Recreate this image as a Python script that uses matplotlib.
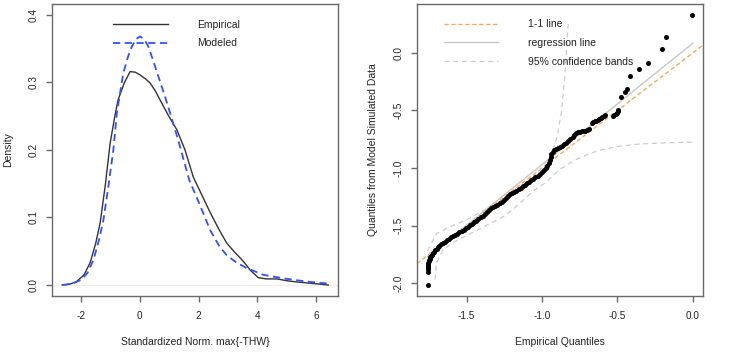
import numpy as np
import matplotlib.pyplot as plt

plt.rcParams['font.family'] = ['Liberation Sans', 'DejaVu Sans']
plt.rcParams['axes.unicode_minus'] = False

# Left panel: density curves
emp_x = [-2.64, -2.40, -2.15, -1.90, -1.69, -1.50, -1.35, -1.18, -1.01, -0.85, -0.74, -0.53, -0.33, -0.15,
         0.01, 0.20, 0.35, 0.52, 0.69, 0.96, 1.26, 1.54, 1.82, 2.05, 2.40, 2.70, 2.96, 3.20, 3.42, 3.60,
         3.76, 4.03, 4.30, 4.67, 5.05, 5.46, 5.95, 6.42]
emp_y = [0.0, 0.001, 0.005, 0.015, 0.033, 0.062, 0.092, 0.146, 0.21, 0.25, 0.274, 0.299, 0.316, 0.315,
         0.311, 0.305, 0.299, 0.288, 0.274, 0.252, 0.23, 0.2, 0.16, 0.139, 0.107, 0.082, 0.062, 0.05, 0.04, 0.031,
         0.022, 0.011, 0.009, 0.009, 0.006, 0.004, 0.002, 0.0]
mod_x = [-2.64, -2.30, -1.98, -1.78, -1.58, -1.40, -1.24, -1.07, -0.90, -0.78, -0.56, -0.40, -0.27, -0.13,
         0.01, 0.15, 0.29, 0.45, 0.63, 0.83, 1.03, 1.37, 1.68, 2.05, 2.40, 2.70, 2.96, 3.30, 3.64, 4.21,
         5.01, 5.70, 6.42]
mod_y = [0.0, 0.002, 0.008, 0.018, 0.037, 0.065, 0.096, 0.146, 0.20, 0.255, 0.314, 0.338, 0.353, 0.364,
         0.368, 0.364, 0.353, 0.333, 0.309, 0.283, 0.255, 0.205, 0.156, 0.118, 0.081, 0.058, 0.044, 0.033, 0.025, 0.015,
         0.009, 0.005, 0.002]

# Right panel: QQ plot
qq_x = [-1.760, -1.760, -1.759, -1.758, -1.757, -1.756, -1.754, -1.752, -1.749, -1.745, -1.741, -1.736, -1.730,
        -1.723, -1.716, -1.708, -1.700, -1.691, -1.681, -1.670, -1.658, -1.645, -1.632, -1.618, -1.604, -1.590,
        -1.576, -1.562, -1.548, -1.534, -1.520, -1.506, -1.492, -1.478, -1.464, -1.450, -1.436, -1.422, -1.408,
        -1.394, -1.380, -1.366, -1.352, -1.338, -1.324, -1.310, -1.296, -1.282, -1.268, -1.254, -1.240, -1.226,
        -1.212, -1.198, -1.184, -1.170, -1.156, -1.142, -1.128, -1.114, -1.100, -1.086, -1.072, -1.058, -1.044,
        -1.030, -1.016, -1.002, -0.988, -0.975, -0.964, -0.955, -0.949, -0.944, -0.938, -0.930, -0.920, -0.908,
        -0.895, -0.882, -0.868, -0.854, -0.840, -0.826, -0.812, -0.798, -0.785, -0.772, -0.760, -0.748, -0.736,
        -0.724, -0.712, -0.700, -0.690,
        -0.670, -0.660, -0.650, -0.640, -0.630, -0.620, -0.610, -0.600, -0.590, -0.582,
        -0.527, -0.520, -0.512, -0.505, -0.498, -0.493,
        -0.477, -0.449, -0.438, -0.416, -0.360, -0.300, -0.205, -0.179, -0.002]
qq_y = [-2.02, -1.90, -1.875, -1.86, -1.85, -1.84, -1.825, -1.812, -1.80, -1.79, -1.778, -1.766, -1.755,
        -1.742, -1.73, -1.716, -1.703, -1.69, -1.677, -1.664, -1.652, -1.64, -1.628, -1.616, -1.604, -1.593,
        -1.582, -1.571, -1.56, -1.549, -1.537, -1.525, -1.512, -1.499, -1.486, -1.473, -1.459, -1.445, -1.43,
        -1.415, -1.398, -1.38, -1.364, -1.35, -1.34, -1.332, -1.322, -1.308, -1.293, -1.275, -1.258, -1.243,
        -1.23, -1.219, -1.209, -1.198, -1.186, -1.172, -1.158, -1.145, -1.133, -1.121, -1.108, -1.095, -1.081,
        -1.066, -1.052, -1.036, -1.018, -1.0, -0.98, -0.955, -0.93, -0.905, -0.882, -0.862, -0.845, -0.832,
        -0.823, -0.815, -0.805, -0.793, -0.78, -0.765, -0.75, -0.733, -0.717, -0.70, -0.69, -0.684, -0.68,
        -0.677, -0.674, -0.67, -0.664,
        -0.608, -0.601, -0.594, -0.588, -0.582, -0.573, -0.565, -0.556, -0.548, -0.54,
        -0.548, -0.54, -0.53, -0.518, -0.506, -0.497,
        -0.38, -0.336, -0.316, -0.2, -0.142, -0.087, 0.035, 0.136, 0.333]

reg_x = [-1.76, 0.0]
reg_y = [-1.77, 0.084]

upper_x = [-1.76, -1.74, -1.70, -1.61, -1.50, -1.39, -1.29, -1.17, -1.08, -0.99, -0.94, -0.90, -0.87, -0.85,
           -0.835, -0.826]
upper_y = [-1.72, -1.67, -1.57, -1.51, -1.45, -1.37, -1.30, -1.21, -1.12, -0.974, -0.90, -0.73, -0.50, -0.21,
           0.08, 0.27]
lower_x = [-1.71, -1.70, -1.66, -1.60, -1.52, -1.43, -1.34, -1.24, -1.15, -1.06, -0.98, -0.88, -0.78, -0.68,
           -0.60, -0.48, -0.35, -0.15, 0.0]
lower_y = [-1.97, -1.82, -1.72, -1.655, -1.60, -1.54, -1.48, -1.41, -1.31, -1.20, -1.13, -1.01, -0.93, -0.872,
           -0.84, -0.809, -0.791, -0.78, -0.775]

frame_col = '#6a6a6a'
text_col = '#222222'

fig = plt.figure(figsize=(7.29, 3.6), dpi=100)
ax1 = fig.add_axes([52/729, 64/360, 286/729, 292/360])
ax2 = fig.add_axes([417/729, 64/360, 286/729, 292/360])

# density panel
ax1.axhline(0, color='#eeeeee', lw=0.8, zorder=1)
l1, = ax1.plot(emp_x, emp_y, color='#333333', lw=1.0, label='Empirical')
l2, = ax1.plot(mod_x, mod_y, color='#3350ff', lw=1.3, dashes=(4, 2.5), label='Modeled')
ax1.set_xlim(-2.99, 6.75)
ax1.set_ylim(-0.0163, 0.416)
ax1.set_xticks([-2, 0, 2, 4, 6])
ax1.set_yticks([0.0, 0.1, 0.2, 0.3, 0.4])
ax1.set_yticklabels(['0.0', '0.1', '0.2', '0.3', '0.4'])
ax1.set_xlabel('Standardized Norm. max{-THW}', fontsize=7.5, color=text_col)
ax1.set_ylabel('Density', fontsize=7.5, color=text_col)
ax1.legend(handles=[l1, l2], loc='upper left', bbox_to_anchor=(0.213, 0.945), frameon=False,
           fontsize=7.5, handlelength=5.3, handletextpad=2.8, labelspacing=0.8,
           borderpad=0, borderaxespad=0, labelcolor=text_col)

# QQ panel
ax2.axline((0, 0), slope=1, color='#f6a860', lw=1.0, dashes=(3, 2), label='1-1 line')
ax2.plot(reg_x, reg_y, color='#c8c8c8', lw=1.0, label='regression line', zorder=2)
ax2.plot(upper_x, upper_y, color='#cccccc', lw=0.9, dashes=(4, 3), label='95% confidence bands')
ax2.plot(lower_x, lower_y, color='#cccccc', lw=0.9, dashes=(4, 3))
ax2.plot(qq_x, qq_y, 'o', color='black', ms=3.6, mew=0, zorder=3)
ax2.set_xlim(-1.83, 0.068)
ax2.set_ylim(-2.113, 0.426)
ax2.set_xticks([-1.5, -1.0, -0.5, 0.0])
ax2.set_xticklabels(['-1.5', '-1.0', '-0.5', '0.0'])
ax2.set_yticks([-2.0, -1.5, -1.0, -0.5, 0.0])
ax2.set_yticklabels(['-2.0', '-1.5', '-1.0', '-0.5', '0.0'])
ax2.set_xlabel('Empirical Quantiles', fontsize=7.5, color=text_col)
ax2.set_ylabel('Quantiles from Model Simulated Data', fontsize=7.5, color=text_col)
h, lab = ax2.get_legend_handles_labels()
ax2.legend(h[:3], lab[:3], loc='upper left', bbox_to_anchor=(0.094, 0.948), frameon=False,
           fontsize=7.5, handlelength=5.2, handletextpad=2.9, labelspacing=0.85,
           borderpad=0, borderaxespad=0, labelcolor=text_col)

for ax in (ax1, ax2):
    for s in ax.spines.values():
        s.set_color(frame_col)
        s.set_linewidth(1.0)
    ax.tick_params(colors=frame_col, labelcolor=text_col, length=4.5, width=1.0, labelsize=7.2)
    ax.tick_params(axis='x', pad=6)
    ax.tick_params(axis='y', pad=5)
    for t in ax.get_yticklabels():
        t.set_rotation(90)
        t.set_va('center')
    ax.yaxis.set_label_coords(-0.135, 0.5)
    ax.xaxis.set_label_coords(0.5, -0.14)

fig.savefig('out.png', dpi=100)
